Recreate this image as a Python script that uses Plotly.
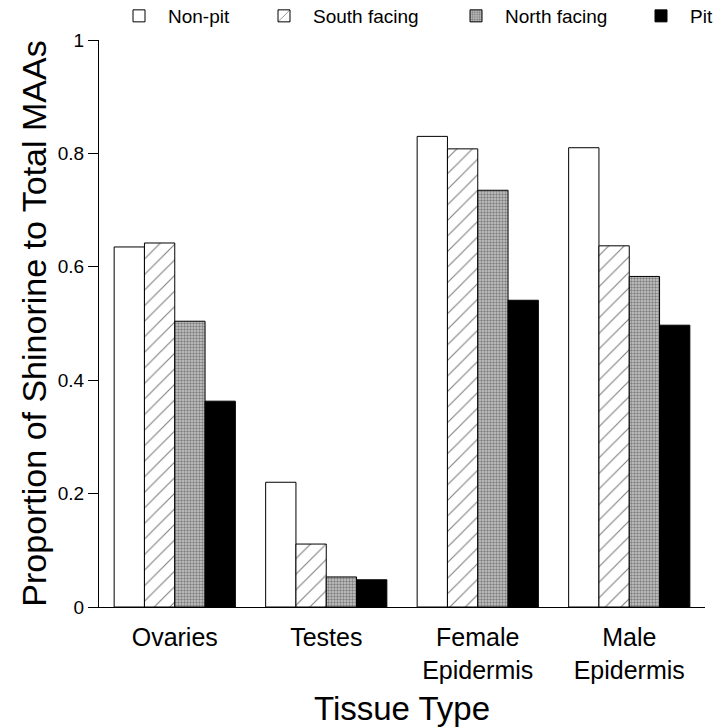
import plotly.graph_objects as go

categories = ["Ovaries", "Testes", "Female<br>Epidermis", "Male<br>Epidermis"]
non_pit = [0.635, 0.220, 0.830, 0.810]
south_facing = [0.642, 0.111, 0.808, 0.637]
north_facing = [0.504, 0.053, 0.735, 0.583]
pit = [0.363, 0.048, 0.541, 0.497]
y_ticks = [0, 0.2, 0.4, 0.6, 0.8, 1]
y_tick_labels = ["0", "0.2", "0.4", "0.6", "0.8", "1"]

FONT = "Arial, Liberation Sans, sans-serif"
W, H = 717, 727
ML, MB = 99, 120
PW, PH = W - ML, H - MB  # paper area (no top/right margin)

fig = go.Figure()
fig.add_trace(go.Bar(
    name="Non-pit", x=categories, y=non_pit, legend="legend", showlegend=True,
    marker=dict(color="white", line=dict(color="black", width=1)),
))
fig.add_trace(go.Bar(
    name="South facing", x=categories, y=south_facing, legend="legend2", showlegend=True,
    marker=dict(color="white", line=dict(color="black", width=1),
                pattern=dict(shape="/", fgcolor="black", bgcolor="white", size=11, solidity=0.1)),
))
fig.add_trace(go.Bar(
    name="North facing", x=categories, y=north_facing, legend="legend3", showlegend=True,
    marker=dict(color="#8a8a8a", line=dict(color="black", width=1),
                pattern=dict(shape=".", fgcolor="#3a3a3a", bgcolor="#c8c8c8", size=3, solidity=0.5)),
))
fig.add_trace(go.Bar(
    name="Pit", x=categories, y=pit, legend="legend4", showlegend=True,
    marker=dict(color="black", line=dict(color="black", width=1)),
))

legend_common = dict(orientation="h", yanchor="middle", y=1 - 16 / PH, xanchor="left", itemwidth=48,
                     font=dict(family=FONT, size=19, color="black"),
                     bgcolor="rgba(0,0,0,0)", borderwidth=0)

def lx(px):
    return (px - ML) / PW

fig.update_layout(
    width=W, height=H,
    margin=dict(l=ML, r=0, t=0, b=MB, autoexpand=False),
    paper_bgcolor="white", plot_bgcolor="white",
    showlegend=True,
    barmode="group", bargap=0.2, bargroupgap=0,
    font=dict(family=FONT, color="black"),
    legend=dict(**legend_common, x=lx(110)),
    legend2=dict(**legend_common, x=lx(255)),
    legend3=dict(**legend_common, x=lx(447)),
    legend4=dict(**legend_common, x=lx(632)),
    xaxis=dict(
        domain=[0, (705 - ML) / PW],
        range=[-0.5, 3.5], showline=True, linecolor="black", linewidth=1,
        ticks="", ticklabelstandoff=8, tickfont=dict(size=25, family=FONT, color="black"),
        title=dict(text="Tissue Type", font=dict(size=33, family=FONT, color="black"), standoff=14),
        showgrid=False, zeroline=False, automargin=False,
    ),
    yaxis=dict(
        domain=[0, (607 - 40) / PH],
        range=[0, 1], tickvals=y_ticks, ticktext=y_tick_labels,
        showline=True, linecolor="black", linewidth=1,
        ticks="outside", ticklen=10, tickcolor="black",
        tickfont=dict(size=19, family=FONT, color="black"),
        title=dict(text="Proportion of Shinorine to Total MAAs", font=dict(size=34, family=FONT, color="black"), standoff=0),
        showgrid=False, zeroline=False, automargin=False,
    ),
)

fig.write_html("out.html", config={"displayModeBar": False},
               post_script="document.body.style.margin='0';")
